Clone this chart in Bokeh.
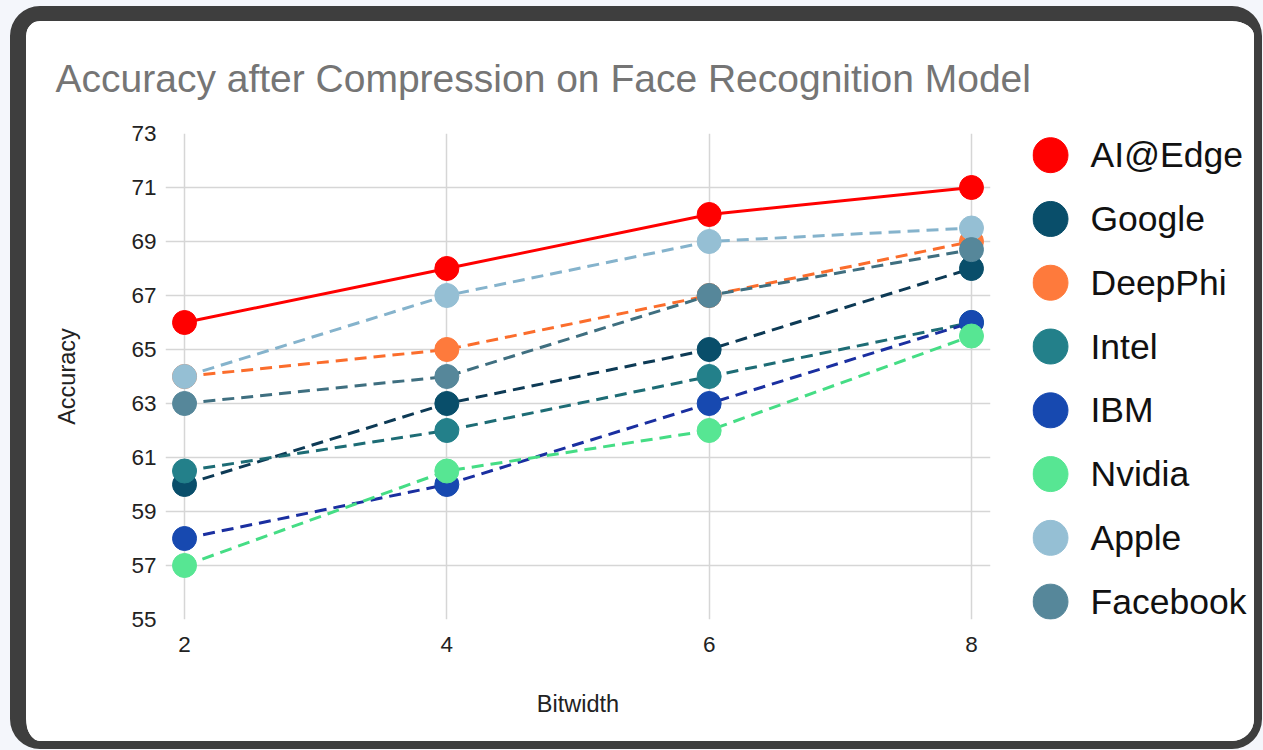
from bokeh.plotting import figure
from bokeh.layouts import row
from bokeh.models import Range1d, FixedTicker, GlobalInlineStyleSheet
from bokeh.core.properties import value
from bokeh.embed import file_html
from bokeh.resources import INLINE

# ---- data ----
bitwidth = [2, 4, 6, 8]
series_names = ["AI@Edge", "Google", "DeepPhi", "Intel", "IBM", "Nvidia", "Apple", "Facebook"]
ai_edge = [66, 68, 70, 71]
google = [60, 63, 65, 68]
deepphi = [64, 65, 67, 69]
intel = [60.5, 62, 64, 66]
ibm = [58, 60, 63, 66]
nvidia = [57, 60.5, 62, 65.5]
apple = [64, 67, 69, 69.5]
facebook = [63, 64, 67, 68.7]
y_ticks = [55, 57, 59, 61, 63, 65, 67, 69, 71, 73]
x_ticks = [2, 4, 6, 8]
title_text = "Accuracy after Compression on Face Recognition Model"

series_values = [ai_edge, google, deepphi, intel, ibm, nvidia, apple, facebook]

# ---- styles ----
marker_colors = ["#ff0000", "#094e6a", "#fe7a3c", "#23808a", "#1749b0", "#57e693", "#95bfd4", "#56879a"]
line_colors = ["#ff0000", "#0d3a55", "#fb6d2c", "#1d6c75", "#1a2fa0", "#45dd85", "#85b3cc", "#3f6f80"]
dashes = ["solid"] + ["12 7"] * 7
FONT = "Liberation Sans"
TOTAL_W = 1228
MAIN_W = 1006
H = 720

# ---- main chart ----
p = figure(
    width=MAIN_W, height=H,
    x_range=Range1d(1.855, 8.145), y_range=Range1d(55, 73),
    output_backend="svg", toolbar_location=None,
    min_border_left=139, min_border_right=42, min_border_top=105, min_border_bottom=122,
    background_fill_color="white", border_fill_color="white",
)
p.outline_line_color = None

p.title.text = title_text
p.title.text_font = FONT
p.title.text_font_size = "39px"
p.title.text_font_style = "normal"
p.title.text_color = "#757575"
p.title.align = "left"
p.title.offset = -110
p.title.standoff = 67

p.xaxis.ticker = FixedTicker(ticks=x_ticks)
p.yaxis.ticker = FixedTicker(ticks=y_ticks)
for ax in (p.xaxis[0], p.yaxis[0]):
    ax.axis_line_color = None
    ax.major_tick_line_color = None
    ax.minor_tick_line_color = None
    ax.major_tick_out = 0
    ax.major_tick_in = 0
    ax.major_label_text_font = FONT
    ax.major_label_text_font_size = "22.5px"
    ax.major_label_text_color = "#222222"
    ax.axis_label_text_font = FONT
    ax.axis_label_text_font_size = "23.5px"
    ax.axis_label_text_font_style = "normal"
    ax.axis_label_text_color = "#222222"
p.xaxis.axis_label = "Bitwidth"
p.yaxis.axis_label = "Accuracy"
p.xaxis.major_label_standoff = 17
p.yaxis.major_label_standoff = 9
p.xaxis.axis_label_standoff = 36
p.yaxis.axis_label_standoff = 48

p.xgrid.ticker = FixedTicker(ticks=x_ticks)
p.ygrid.ticker = FixedTicker(ticks=y_ticks)
p.grid.grid_line_color = "#d6d6d6"
p.grid.grid_line_width = 1.5

for vals, mc, lc, dash in zip(series_values, marker_colors, line_colors, dashes):
    p.line(bitwidth, vals, line_color=lc, line_width=3, line_dash=dash)
    p.scatter(bitwidth, vals, size=24, fill_color=mc, line_color=mc, line_width=1)

# ---- legend panel: one row per series, top to bottom ----
LEG_W = TOTAL_W - MAIN_W
n = len(series_names)
row_index = list(range(n))
lg = figure(
    width=LEG_W, height=H,
    x_range=Range1d(0, LEG_W), y_range=Range1d(7.28, -0.34),
    output_backend="svg", toolbar_location=None,
    min_border_left=0, min_border_right=0, min_border_top=105, min_border_bottom=122,
    background_fill_color="white", border_fill_color="white",
)
lg.axis.visible = False
lg.grid.visible = False
lg.outline_line_color = None
marker_x = [18] * n
label_x = [58] * n
lg.scatter(marker_x, row_index, size=35, fill_color=marker_colors, line_color=marker_colors)
lg.text(label_x, row_index, text=series_names, text_baseline="middle", text_align="left",
        text_font=value(FONT), text_font_size="35.5px", text_color="#111111")

layout = row(p, lg)
layout.styles = {
    "margin-left": "10px",
    "margin-top": "6px",
    "border-style": "solid",
    "border-color": "#3e3e3e",
    "border-width": "15px 8px 8px 16px",
    "border-radius": "30px",
    "overflow": "hidden",
    "background-color": "white",
}
layout.stylesheets = [GlobalInlineStyleSheet(css="html, body { background-color: #f4f6fb; }")]

open("out.html", "w").write(file_html(layout, INLINE))
